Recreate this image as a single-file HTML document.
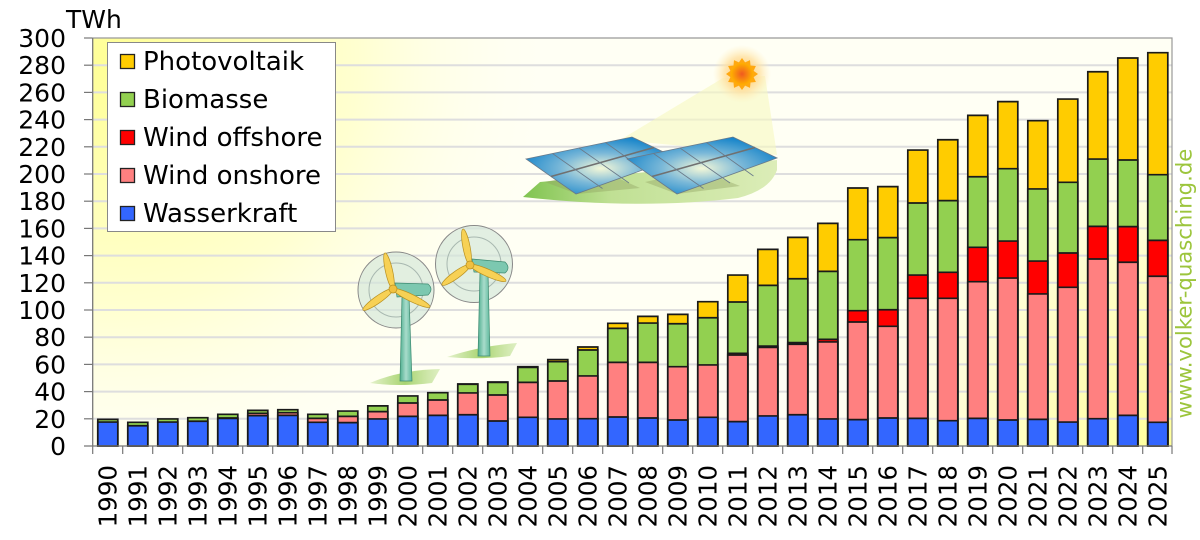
<!DOCTYPE html>
<html><head><meta charset="utf-8">
<style>
html,body{margin:0;padding:0;background:#fff;width:1200px;height:540px;overflow:hidden}
svg{display:block}
.b rect{vector-effect:non-scaling-stroke}
text{font-family:"DejaVu Sans","Liberation Sans",sans-serif}
</style></head>
<body>
<svg width="1200" height="540" viewBox="0 0 1200 540" xmlns="http://www.w3.org/2000/svg">
<defs>
<radialGradient id="g1" cx="110" cy="60" r="450" gradientUnits="userSpaceOnUse">
<stop offset="0" stop-color="#ffff96"/><stop offset="0.55" stop-color="#ffffd0"/><stop offset="1" stop-color="#fffff4" stop-opacity="0"/></radialGradient>
<radialGradient id="g2" cx="1172" cy="446" r="380" gradientUnits="userSpaceOnUse">
<stop offset="0" stop-color="#ffff9a"/><stop offset="0.5" stop-color="#ffffcc"/><stop offset="1" stop-color="#fffff4" stop-opacity="0"/></radialGradient>
<radialGradient id="sunglow"><stop offset="0" stop-color="#ffc060"/><stop offset="0.6" stop-color="#ffe0a0" stop-opacity="0.8"/><stop offset="1" stop-color="#fff0c0" stop-opacity="0"/></radialGradient>
<radialGradient id="suncore" cx="0.5" cy="0.5" r="0.5"><stop offset="0" stop-color="#f05a20"/><stop offset="1" stop-color="#ffb000"/></radialGradient>
<radialGradient id="pan" cx="0.5" cy="0.55" r="0.6"><stop offset="0" stop-color="#f4f8d8"/><stop offset="0.45" stop-color="#7ab8d8"/><stop offset="1" stop-color="#0a7ec8"/></radialGradient>
<linearGradient id="gnd" x1="0" y1="0" x2="1" y2="0"><stop offset="0" stop-color="#80c450"/><stop offset="0.35" stop-color="#c0e094"/><stop offset="1" stop-color="#dcedb8"/></linearGradient>
<linearGradient id="tw" x1="0" y1="0" x2="1" y2="0"><stop offset="0" stop-color="#4fae90"/><stop offset="0.5" stop-color="#a8dccb"/><stop offset="1" stop-color="#5db89c"/></linearGradient>
<linearGradient id="tg" x1="0" y1="0" x2="1" y2="0"><stop offset="0" stop-color="#a8d470" stop-opacity="0.3"/><stop offset="0.5" stop-color="#a8d470"/><stop offset="1" stop-color="#c8e4a0" stop-opacity="0.6"/></linearGradient>
</defs>

<rect x="92.7" y="38" width="1079.3" height="408" fill="#fffff4"/>
<rect x="92.7" y="38" width="1079.3" height="408" fill="url(#g1)"/>
<rect x="92.7" y="38" width="1079.3" height="408" fill="url(#g2)"/>

<g stroke="#dedede" stroke-width="2">
<line x1="93" y1="65.2" x2="1172" y2="65.2"/>
<line x1="93" y1="92.4" x2="1172" y2="92.4"/>
<line x1="93" y1="119.6" x2="1172" y2="119.6"/>
<line x1="93" y1="146.8" x2="1172" y2="146.8"/>
<line x1="93" y1="174" x2="1172" y2="174"/>
<line x1="93" y1="201.2" x2="1172" y2="201.2"/>
<line x1="93" y1="228.4" x2="1172" y2="228.4"/>
<line x1="93" y1="255.6" x2="1172" y2="255.6"/>
<line x1="93" y1="282.8" x2="1172" y2="282.8"/>
<line x1="93" y1="310" x2="1172" y2="310"/>
<line x1="93" y1="337.2" x2="1172" y2="337.2"/>
<line x1="93" y1="364.4" x2="1172" y2="364.4"/>
<line x1="93" y1="391.6" x2="1172" y2="391.6"/>
<line x1="93" y1="418.8" x2="1172" y2="418.8"/>
</g>

<polygon points="723,78 765,76 777,155 620,140" fill="#f6f8c0" opacity="0.6"/>
<circle cx="742" cy="74" r="29" fill="url(#sunglow)"/>
<polygon points="758,74 753.6,77.1 755.9,82 750.5,82.5 750,87.9 745.1,85.6 742,90 738.9,85.6 734,87.9 733.5,82.5 728.1,82 730.4,77.1 726,74 730.4,70.9 728.1,66 733.5,65.5 734,60.1 738.9,62.4 742,58 745.1,62.4 750,60.1 750.5,65.5 755.9,66 753.6,70.9" fill="#ffa810"/>
<circle cx="742" cy="74" r="11" fill="url(#suncore)"/>
<path d="M523,197 L540,182 L777,160 L777,170 Q770,190 738,198 Q640,210 523,197 Z" fill="url(#gnd)"/>
<polygon points="545,182 577,194 640,188 600,170" fill="#8fa060" opacity="0.4"/>
<polygon points="645,182 677,194 740,186 700,170" fill="#8fa060" opacity="0.4"/>
<g stroke="#6a7a8a" stroke-width="0.8">
<polygon points="526,159 632,137 676,158 576,194" fill="url(#pan)"/>
<line x1="551" y1="176.5" x2="654" y2="147.5" stroke-width="1.6" stroke="#707070"/>
<line x1="552.5" y1="153.5" x2="602.5" y2="188.5"/>
<line x1="579" y1="148" x2="629" y2="183"/>
<line x1="605.5" y1="142.5" x2="652.5" y2="176"/>
<polygon points="627,159 733,137 777,158 677,194" fill="url(#pan)"/>
<line x1="652" y1="176.5" x2="755" y2="147.5" stroke-width="1.6" stroke="#707070"/>
<line x1="653.5" y1="153.5" x2="703.5" y2="188.5"/>
<line x1="680" y1="148" x2="730" y2="183"/>
<line x1="706.5" y1="142.5" x2="753.5" y2="176"/>
</g>

<path d="M370,383 Q400,370 440,369 L432,383 Q400,387 370,383 Z" fill="url(#tg)"/>
<path d="M447,357 Q480,346 517,343 L510,356 Q480,360 447,357 Z" fill="url(#tg)"/>
<g>
<circle cx="396" cy="290" r="38" fill="#d2e6d8" fill-opacity="0.65" stroke="#888" stroke-width="1"/>
<circle cx="396" cy="290" r="27" fill="none" stroke="#a8b8b0" stroke-width="1"/>
<polygon points="402,296 409,296 412,381 400,381" fill="url(#tw)" stroke="#3d8a70" stroke-width="0.7"/>
<path d="M395,283 L428,284 Q434,289 428,295 L397,297 Z" fill="#7cc8b0" stroke="#3d8a70" stroke-width="0.7"/>
<g fill="#f7d155" stroke="#b89020" stroke-width="0.7">
<ellipse cx="389" cy="271" rx="18.5" ry="3.6" transform="rotate(77.5 389 271)"/>
<ellipse cx="378" cy="299.5" rx="18.3" ry="3.6" transform="rotate(145 378 299.5)"/>
<ellipse cx="411.5" cy="298" rx="20.5" ry="3.6" transform="rotate(25.9 411.5 298)"/>
</g>
<circle cx="393" cy="289" r="4" fill="#f0c040" stroke="#b89020" stroke-width="0.7"/>
</g>
<g>
<circle cx="474" cy="264" r="38.5" fill="#d2e6d8" fill-opacity="0.65" stroke="#888" stroke-width="1"/>
<circle cx="474" cy="264" r="27" fill="none" stroke="#a8b8b0" stroke-width="1"/>
<polygon points="480,272 488,272 490,356 478,356" fill="url(#tw)" stroke="#3d8a70" stroke-width="0.7"/>
<path d="M472,259 L505,262 Q511,268 505,273 L474,272 Z" fill="#7cc8b0" stroke="#3d8a70" stroke-width="0.7"/>
<g fill="#f7d155" stroke="#b89020" stroke-width="0.7">
<ellipse cx="466.5" cy="247" rx="18.3" ry="3.6" transform="rotate(79 466.5 247)"/>
<ellipse cx="456" cy="275" rx="17.2" ry="3.6" transform="rotate(144.5 456 275)"/>
<ellipse cx="488" cy="273" rx="19.7" ry="3.6" transform="rotate(24 488 273)"/>
</g>
<circle cx="470" cy="265" r="4" fill="#f0c040" stroke="#b89020" stroke-width="0.7"/>
</g>

<g class="b" transform="translate(0 446) scale(1 -1.36)" stroke="#1a1a1a" stroke-width="1.7">
<g fill="#ffcc00">
<rect x="457.8" y="0" width="20" height="45.6"/>
<rect x="487.8" y="0" width="20" height="47.1"/>
<rect x="517.8" y="0" width="20" height="58.3"/>
<rect x="547.8" y="0" width="20" height="63.5"/>
<rect x="577.8" y="0" width="20" height="72.8"/>
<rect x="607.8" y="0" width="20" height="90.2"/>
<rect x="637.8" y="0" width="20" height="95.3"/>
<rect x="667.8" y="0" width="20" height="96.8"/>
<rect x="697.8" y="0" width="20" height="106.1"/>
<rect x="727.8" y="0" width="20" height="125.7"/>
<rect x="757.8" y="0" width="20" height="144.6"/>
<rect x="787.8" y="0" width="20" height="153.4"/>
<rect x="817.8" y="0" width="20" height="163.7"/>
<rect x="847.8" y="0" width="20" height="189.7"/>
<rect x="877.8" y="0" width="20" height="190.7"/>
<rect x="907.8" y="0" width="20" height="217.6"/>
<rect x="937.8" y="0" width="20" height="225.2"/>
<rect x="967.8" y="0" width="20" height="243.1"/>
<rect x="997.8" y="0" width="20" height="253.2"/>
<rect x="1027.8" y="0" width="20" height="239.2"/>
<rect x="1057.8" y="0" width="20" height="255.1"/>
<rect x="1087.8" y="0" width="20" height="275.2"/>
<rect x="1117.8" y="0" width="20" height="285.3"/>
<rect x="1147.8" y="0" width="20" height="289.2"/>
</g>
<g fill="#92d050">
<rect x="97.8" y="0" width="20" height="19.6"/>
<rect x="127.8" y="0" width="20" height="17.4"/>
<rect x="157.8" y="0" width="20" height="19.9"/>
<rect x="187.8" y="0" width="20" height="20.8"/>
<rect x="217.8" y="0" width="20" height="23.3"/>
<rect x="247.8" y="0" width="20" height="26.2"/>
<rect x="277.8" y="0" width="20" height="26.7"/>
<rect x="307.8" y="0" width="20" height="23.3"/>
<rect x="337.8" y="0" width="20" height="25.7"/>
<rect x="367.8" y="0" width="20" height="29.5"/>
<rect x="397.8" y="0" width="20" height="36.8"/>
<rect x="427.8" y="0" width="20" height="39.2"/>
<rect x="457.8" y="0" width="20" height="45.4"/>
<rect x="487.8" y="0" width="20" height="46.8"/>
<rect x="517.8" y="0" width="20" height="57.8"/>
<rect x="547.8" y="0" width="20" height="62.0"/>
<rect x="577.8" y="0" width="20" height="70.6"/>
<rect x="607.8" y="0" width="20" height="86.5"/>
<rect x="637.8" y="0" width="20" height="90.4"/>
<rect x="667.8" y="0" width="20" height="89.9"/>
<rect x="697.8" y="0" width="20" height="94.3"/>
<rect x="727.8" y="0" width="20" height="105.9"/>
<rect x="757.8" y="0" width="20" height="118.1"/>
<rect x="787.8" y="0" width="20" height="123.0"/>
<rect x="817.8" y="0" width="20" height="128.4"/>
<rect x="847.8" y="0" width="20" height="151.7"/>
<rect x="877.8" y="0" width="20" height="153.2"/>
<rect x="907.8" y="0" width="20" height="178.7"/>
<rect x="937.8" y="0" width="20" height="180.4"/>
<rect x="967.8" y="0" width="20" height="198.0"/>
<rect x="997.8" y="0" width="20" height="203.9"/>
<rect x="1027.8" y="0" width="20" height="189.0"/>
<rect x="1057.8" y="0" width="20" height="193.9"/>
<rect x="1087.8" y="0" width="20" height="211.0"/>
<rect x="1117.8" y="0" width="20" height="210.3"/>
<rect x="1147.8" y="0" width="20" height="199.5"/>
</g>
<g fill="#ff0000">
<rect x="727.8" y="0" width="20" height="68.1"/>
<rect x="757.8" y="0" width="20" height="73.5"/>
<rect x="787.8" y="0" width="20" height="76.0"/>
<rect x="817.8" y="0" width="20" height="78.4"/>
<rect x="847.8" y="0" width="20" height="99.5"/>
<rect x="877.8" y="0" width="20" height="100.2"/>
<rect x="907.8" y="0" width="20" height="125.7"/>
<rect x="937.8" y="0" width="20" height="127.7"/>
<rect x="967.8" y="0" width="20" height="146.1"/>
<rect x="997.8" y="0" width="20" height="150.7"/>
<rect x="1027.8" y="0" width="20" height="136.0"/>
<rect x="1057.8" y="0" width="20" height="141.9"/>
<rect x="1087.8" y="0" width="20" height="161.5"/>
<rect x="1117.8" y="0" width="20" height="161.3"/>
<rect x="1147.8" y="0" width="20" height="151.2"/>
</g>
<g fill="#ff8080">
<rect x="217.8" y="0" width="20" height="20.6"/>
<rect x="247.8" y="0" width="20" height="24.0"/>
<rect x="277.8" y="0" width="20" height="24.5"/>
<rect x="307.8" y="0" width="20" height="20.3"/>
<rect x="337.8" y="0" width="20" height="21.8"/>
<rect x="367.8" y="0" width="20" height="25.3"/>
<rect x="397.8" y="0" width="20" height="31.6"/>
<rect x="427.8" y="0" width="20" height="33.8"/>
<rect x="457.8" y="0" width="20" height="39.0"/>
<rect x="487.8" y="0" width="20" height="37.5"/>
<rect x="517.8" y="0" width="20" height="46.8"/>
<rect x="547.8" y="0" width="20" height="47.8"/>
<rect x="577.8" y="0" width="20" height="51.5"/>
<rect x="607.8" y="0" width="20" height="61.5"/>
<rect x="637.8" y="0" width="20" height="61.5"/>
<rect x="667.8" y="0" width="20" height="58.3"/>
<rect x="697.8" y="0" width="20" height="59.6"/>
<rect x="727.8" y="0" width="20" height="66.9"/>
<rect x="757.8" y="0" width="20" height="72.5"/>
<rect x="787.8" y="0" width="20" height="74.8"/>
<rect x="817.8" y="0" width="20" height="76.5"/>
<rect x="847.8" y="0" width="20" height="91.2"/>
<rect x="877.8" y="0" width="20" height="88.0"/>
<rect x="907.8" y="0" width="20" height="108.6"/>
<rect x="937.8" y="0" width="20" height="108.6"/>
<rect x="967.8" y="0" width="20" height="120.8"/>
<rect x="997.8" y="0" width="20" height="123.5"/>
<rect x="1027.8" y="0" width="20" height="111.8"/>
<rect x="1057.8" y="0" width="20" height="116.7"/>
<rect x="1087.8" y="0" width="20" height="137.5"/>
<rect x="1117.8" y="0" width="20" height="135.1"/>
<rect x="1147.8" y="0" width="20" height="124.8"/>
</g>
<g fill="#3366ff">
<rect x="97.8" y="0" width="20" height="17.6"/>
<rect x="127.8" y="0" width="20" height="14.9"/>
<rect x="157.8" y="0" width="20" height="17.6"/>
<rect x="187.8" y="0" width="20" height="18.2"/>
<rect x="217.8" y="0" width="20" height="20.3"/>
<rect x="247.8" y="0" width="20" height="22.3"/>
<rect x="277.8" y="0" width="20" height="22.5"/>
<rect x="307.8" y="0" width="20" height="17.4"/>
<rect x="337.8" y="0" width="20" height="17.2"/>
<rect x="367.8" y="0" width="20" height="19.9"/>
<rect x="397.8" y="0" width="20" height="21.8"/>
<rect x="427.8" y="0" width="20" height="22.5"/>
<rect x="457.8" y="0" width="20" height="23.0"/>
<rect x="487.8" y="0" width="20" height="18.4"/>
<rect x="517.8" y="0" width="20" height="21.1"/>
<rect x="547.8" y="0" width="20" height="19.9"/>
<rect x="577.8" y="0" width="20" height="20.1"/>
<rect x="607.8" y="0" width="20" height="21.3"/>
<rect x="637.8" y="0" width="20" height="20.6"/>
<rect x="667.8" y="0" width="20" height="19.1"/>
<rect x="697.8" y="0" width="20" height="21.1"/>
<rect x="727.8" y="0" width="20" height="17.9"/>
<rect x="757.8" y="0" width="20" height="22.1"/>
<rect x="787.8" y="0" width="20" height="23.0"/>
<rect x="817.8" y="0" width="20" height="19.9"/>
<rect x="847.8" y="0" width="20" height="19.4"/>
<rect x="877.8" y="0" width="20" height="20.6"/>
<rect x="907.8" y="0" width="20" height="20.3"/>
<rect x="937.8" y="0" width="20" height="18.6"/>
<rect x="967.8" y="0" width="20" height="20.3"/>
<rect x="997.8" y="0" width="20" height="19.1"/>
<rect x="1027.8" y="0" width="20" height="19.6"/>
<rect x="1057.8" y="0" width="20" height="17.6"/>
<rect x="1087.8" y="0" width="20" height="20.1"/>
<rect x="1117.8" y="0" width="20" height="22.5"/>
<rect x="1147.8" y="0" width="20" height="17.4"/>
</g>
</g>

<polyline points="92.7,38 1172,38 1172,446" fill="none" stroke="#999" stroke-width="1.2"/>
<line x1="92.7" y1="38" x2="92.7" y2="446" stroke="#777" stroke-width="1.3"/>
<line x1="84" y1="446" x2="1172" y2="446" stroke="#777" stroke-width="1.3"/>
<g stroke="#777" stroke-width="1.2">
<line x1="84" y1="38" x2="92.7" y2="38"/><line x1="84" y1="65.2" x2="92.7" y2="65.2"/><line x1="84" y1="92.4" x2="92.7" y2="92.4"/><line x1="84" y1="119.6" x2="92.7" y2="119.6"/><line x1="84" y1="146.8" x2="92.7" y2="146.8"/><line x1="84" y1="174" x2="92.7" y2="174"/><line x1="84" y1="201.2" x2="92.7" y2="201.2"/><line x1="84" y1="228.4" x2="92.7" y2="228.4"/><line x1="84" y1="255.6" x2="92.7" y2="255.6"/><line x1="84" y1="282.8" x2="92.7" y2="282.8"/><line x1="84" y1="310" x2="92.7" y2="310"/><line x1="84" y1="337.2" x2="92.7" y2="337.2"/><line x1="84" y1="364.4" x2="92.7" y2="364.4"/><line x1="84" y1="391.6" x2="92.7" y2="391.6"/><line x1="84" y1="418.8" x2="92.7" y2="418.8"/>
<line x1="92.7" y1="446" x2="92.7" y2="454"/><line x1="122.7" y1="446" x2="122.7" y2="454"/><line x1="152.7" y1="446" x2="152.7" y2="454"/><line x1="182.7" y1="446" x2="182.7" y2="454"/><line x1="212.7" y1="446" x2="212.7" y2="454"/><line x1="242.7" y1="446" x2="242.7" y2="454"/><line x1="272.7" y1="446" x2="272.7" y2="454"/><line x1="302.7" y1="446" x2="302.7" y2="454"/><line x1="332.7" y1="446" x2="332.7" y2="454"/><line x1="362.7" y1="446" x2="362.7" y2="454"/><line x1="392.7" y1="446" x2="392.7" y2="454"/><line x1="422.7" y1="446" x2="422.7" y2="454"/><line x1="452.7" y1="446" x2="452.7" y2="454"/><line x1="482.7" y1="446" x2="482.7" y2="454"/><line x1="512.7" y1="446" x2="512.7" y2="454"/><line x1="542.7" y1="446" x2="542.7" y2="454"/><line x1="572.7" y1="446" x2="572.7" y2="454"/><line x1="602.7" y1="446" x2="602.7" y2="454"/><line x1="632.7" y1="446" x2="632.7" y2="454"/><line x1="662.7" y1="446" x2="662.7" y2="454"/><line x1="692.7" y1="446" x2="692.7" y2="454"/><line x1="722.7" y1="446" x2="722.7" y2="454"/><line x1="752.7" y1="446" x2="752.7" y2="454"/><line x1="782.7" y1="446" x2="782.7" y2="454"/><line x1="812.7" y1="446" x2="812.7" y2="454"/><line x1="842.7" y1="446" x2="842.7" y2="454"/><line x1="872.7" y1="446" x2="872.7" y2="454"/><line x1="902.7" y1="446" x2="902.7" y2="454"/><line x1="932.7" y1="446" x2="932.7" y2="454"/><line x1="962.7" y1="446" x2="962.7" y2="454"/><line x1="992.7" y1="446" x2="992.7" y2="454"/><line x1="1022.7" y1="446" x2="1022.7" y2="454"/><line x1="1052.7" y1="446" x2="1052.7" y2="454"/><line x1="1082.7" y1="446" x2="1082.7" y2="454"/><line x1="1112.7" y1="446" x2="1112.7" y2="454"/><line x1="1142.7" y1="446" x2="1142.7" y2="454"/><line x1="1172" y1="446" x2="1172" y2="454"/>
</g>

<g font-size="25" text-anchor="end" fill="#000">
<text x="66" y="28" text-anchor="start">TWh</text>
<text x="66" y="47">300</text>
<text x="66" y="74.2">280</text>
<text x="66" y="101.4">260</text>
<text x="66" y="128.6">240</text>
<text x="66" y="155.8">220</text>
<text x="66" y="183">200</text>
<text x="66" y="210.2">180</text>
<text x="66" y="237.4">160</text>
<text x="66" y="264.6">140</text>
<text x="66" y="291.8">120</text>
<text x="66" y="319">100</text>
<text x="66" y="346.2">80</text>
<text x="66" y="373.4">60</text>
<text x="66" y="400.6">40</text>
<text x="66" y="427.8">20</text>
<text x="66" y="455">0</text>
</g>

<g font-size="24.5" text-anchor="end" fill="#000">
<text transform="translate(116.7 465) rotate(-90)">1990</text>
<text transform="translate(146.7 465) rotate(-90)">1991</text>
<text transform="translate(176.7 465) rotate(-90)">1992</text>
<text transform="translate(206.7 465) rotate(-90)">1993</text>
<text transform="translate(236.7 465) rotate(-90)">1994</text>
<text transform="translate(266.7 465) rotate(-90)">1995</text>
<text transform="translate(296.7 465) rotate(-90)">1996</text>
<text transform="translate(326.7 465) rotate(-90)">1997</text>
<text transform="translate(356.7 465) rotate(-90)">1998</text>
<text transform="translate(386.7 465) rotate(-90)">1999</text>
<text transform="translate(416.7 465) rotate(-90)">2000</text>
<text transform="translate(446.7 465) rotate(-90)">2001</text>
<text transform="translate(476.7 465) rotate(-90)">2002</text>
<text transform="translate(506.7 465) rotate(-90)">2003</text>
<text transform="translate(536.7 465) rotate(-90)">2004</text>
<text transform="translate(566.7 465) rotate(-90)">2005</text>
<text transform="translate(596.7 465) rotate(-90)">2006</text>
<text transform="translate(626.7 465) rotate(-90)">2007</text>
<text transform="translate(656.7 465) rotate(-90)">2008</text>
<text transform="translate(686.7 465) rotate(-90)">2009</text>
<text transform="translate(716.7 465) rotate(-90)">2010</text>
<text transform="translate(746.7 465) rotate(-90)">2011</text>
<text transform="translate(776.7 465) rotate(-90)">2012</text>
<text transform="translate(806.7 465) rotate(-90)">2013</text>
<text transform="translate(836.7 465) rotate(-90)">2014</text>
<text transform="translate(866.7 465) rotate(-90)">2015</text>
<text transform="translate(896.7 465) rotate(-90)">2016</text>
<text transform="translate(926.7 465) rotate(-90)">2017</text>
<text transform="translate(956.7 465) rotate(-90)">2018</text>
<text transform="translate(986.7 465) rotate(-90)">2019</text>
<text transform="translate(1016.7 465) rotate(-90)">2020</text>
<text transform="translate(1046.7 465) rotate(-90)">2021</text>
<text transform="translate(1076.7 465) rotate(-90)">2022</text>
<text transform="translate(1106.7 465) rotate(-90)">2023</text>
<text transform="translate(1136.7 465) rotate(-90)">2024</text>
<text transform="translate(1166.7 465) rotate(-90)">2025</text>
</g>

<text transform="translate(1191.5 283.5) rotate(-90)" font-size="21.2" text-anchor="middle" fill="#9cc53c">www.volker-quasching.de</text>

<rect x="107.5" y="42.5" width="228" height="189" fill="#fff" stroke="#888" stroke-width="1"/>
<g stroke="#222" stroke-width="1.3">
<rect x="120.5" y="54.5" width="14" height="14" fill="#ffcc00"/>
<rect x="120.5" y="92.5" width="14" height="14" fill="#92d050"/>
<rect x="120.5" y="130.5" width="14" height="14" fill="#ff0000"/>
<rect x="120.5" y="168.5" width="14" height="14" fill="#ff8080"/>
<rect x="120.5" y="206.5" width="14" height="14" fill="#3366ff"/>
</g>
<g font-size="26" fill="#000">
<text x="143" y="70">Photovoltaik</text>
<text x="143" y="108">Biomasse</text>
<text x="143" y="146">Wind offshore</text>
<text x="143" y="184">Wind onshore</text>
<text x="143" y="222">Wasserkraft</text>
</g>
</svg>
</body></html>
